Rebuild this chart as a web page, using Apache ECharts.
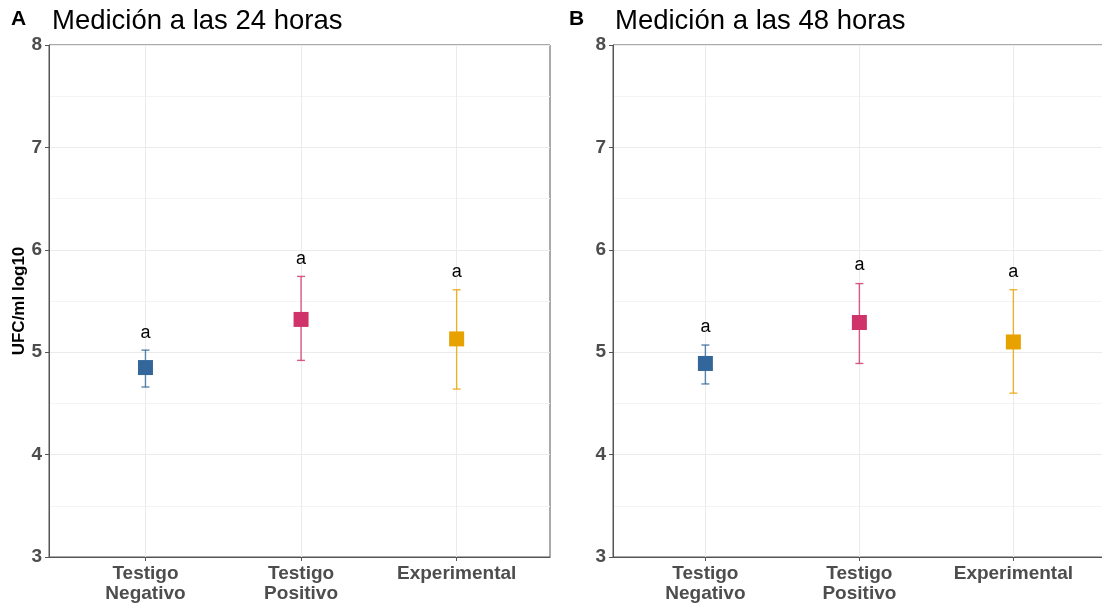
<!DOCTYPE html>
<html><head><meta charset="utf-8">
<script src="https://cdn.jsdelivr.net/npm/echarts@6/dist/echarts.min.js"></script>
<style>html,body{margin:0;padding:0;background:#fff}#c{width:1102px;height:605px}</style>
</head><body><div id="c"></div>
<script>
const categories = ['Testigo\nNegativo', 'Testigo\nPositivo', 'Experimental'];
const colors = ['#33669A', '#D0336A', '#E8A200'];
const yTicks = [3, 4, 5, 6, 7, 8];
// Panel A (24 h)
const meanA = [4.85, 5.32, 5.13];
const lowA = [4.66, 4.92, 4.64];
const highA = [5.02, 5.74, 5.61];
const letterA = ['a', 'a', 'a'];
const letterPosA = [5.19, 5.91, 5.78];
// Panel B (48 h)
const meanB = [4.89, 5.29, 5.10];
const lowB = [4.69, 4.89, 4.60];
const highB = [5.07, 5.67, 5.61];
const letterB = ['a', 'a', 'a'];
const letterPosB = [5.25, 5.85, 5.78];

const FONT = '"Liberation Sans", Arial, sans-serif';
const chart = echarts.init(document.getElementById('c'), null, {renderer: 'canvas'});

function xAxisCfg(gi, min, max) {
  return {
    type: 'value', gridIndex: gi, min: min, max: max,
    axisLine: {show: true, onZero: false, lineStyle: {color: '#555', width: 1}},
    axisTick: {show: true, length: 4, customValues: [1, 2, 3], lineStyle: {color: '#555'}},
    axisLabel: {customValues: [1, 2, 3], formatter: v => categories[Math.round(v) - 1] || '',
      fontFamily: FONT, fontWeight: 'bold', fontSize: 19, color: '#4d4d4d', lineHeight: 20, margin: 7},
    splitLine: {show: true, lineStyle: {color: '#ebebeb', width: 1}}
  };
}
function yAxisCfg(gi, name) {
  return {
    type: 'value', gridIndex: gi, min: 3, max: 8, interval: 1,
    name: name, nameLocation: 'middle', nameRotate: 90, nameGap: 19,
    nameTextStyle: {fontFamily: FONT, fontWeight: 'bold', fontSize: 17, color: '#000'},
    axisLine: {show: true, lineStyle: {color: '#555', width: 1}},
    axisTick: {show: true, length: 4, lineStyle: {color: '#555'}},
    axisLabel: {fontFamily: FONT, fontWeight: 'bold', fontSize: 19, color: '#4d4d4d', margin: 7,
      formatter: v => yTicks.includes(v) ? String(v) : ''},
    splitLine: {show: true, lineStyle: {color: '#ebebeb', width: 1}},
    minorTick: {show: false, splitNumber: 2},
    minorSplitLine: {show: true, lineStyle: {color: '#f4f4f4', width: 1}}
  };
}
function seriesFor(gi, mean, low, high, letters, letterPos) {
  const idx = [1, 2, 3];
  return [
    {
      type: 'custom', xAxisIndex: gi, yAxisIndex: gi, z: 2,
      data: idx.map((x, i) => [x, low[i], high[i], i]),
      renderItem: function (params, api) {
        const x = api.value(0), lo = api.coord([x, api.value(1)]), hi = api.coord([x, api.value(2)]);
        const c = colors[api.value(3)];
        const hw = 4;
        const st = {stroke: c, lineWidth: 1.4, opacity: 0.8};
        return {type: 'group', children: [
          {type: 'line', shape: {x1: lo[0], y1: lo[1], x2: hi[0], y2: hi[1]}, style: st},
          {type: 'line', shape: {x1: lo[0] - hw, y1: lo[1], x2: lo[0] + hw, y2: lo[1]}, style: st},
          {type: 'line', shape: {x1: hi[0] - hw, y1: hi[1], x2: hi[0] + hw, y2: hi[1]}, style: st}
        ]};
      }
    },
    {
      type: 'scatter', xAxisIndex: gi, yAxisIndex: gi, z: 3, symbol: 'rect', symbolSize: 15,
      data: idx.map((x, i) => ({value: [x, mean[i]], itemStyle: {color: colors[i]}})),
      itemStyle: {opacity: 1}
    },
    {
      type: 'custom', xAxisIndex: gi, yAxisIndex: gi, z: 4,
      data: idx.map((x, i) => [x, letterPos[i], i]),
      renderItem: function (params, api) {
        const p = api.coord([api.value(0), api.value(1)]);
        return {type: 'text', x: p[0], y: p[1], style: {text: letters[api.value(2)], fill: '#000',
          font: '18px ' + FONT, align: 'center', verticalAlign: 'middle'}};
      }
    }
  ];
}

chart.setOption({
  backgroundColor: '#fff',
  animation: false,
  title: [
    {text: 'A', left: 6, top: 4, textStyle: {fontFamily: FONT, fontWeight: 'bold', fontSize: 21, color: '#000'}},
    {text: 'Medición a las 24 horas', left: 47, top: 2, textStyle: {fontFamily: FONT, fontWeight: 'normal', fontSize: 27.5, color: '#000'}},
    {text: 'B', left: 564, top: 4, textStyle: {fontFamily: FONT, fontWeight: 'bold', fontSize: 21, color: '#000'}},
    {text: 'Medición a las 48 horas', left: 610, top: 2, textStyle: {fontFamily: FONT, fontWeight: 'normal', fontSize: 27.5, color: '#000'}}
  ],
  grid: [
    {left: 49, top: 45, width: 501, height: 512, show: true, borderColor: '#555', borderWidth: 1, backgroundColor: 'transparent', outerBoundsMode: 'none'},
    {left: 613, top: 45, width: 500, height: 512, show: true, borderColor: '#555', borderWidth: 1, backgroundColor: 'transparent', outerBoundsMode: 'none'}
  ],
  xAxis: [xAxisCfg(0, 0.38, 3.6), xAxisCfg(1, 0.4, 3.647)],
  yAxis: [yAxisCfg(0, 'UFC/ml log10'), yAxisCfg(1, '')],
  series: [].concat(
    seriesFor(0, meanA, lowA, highA, letterA, letterPosA),
    seriesFor(1, meanB, lowB, highB, letterB, letterPosB)
  )
});
</script></body></html>
